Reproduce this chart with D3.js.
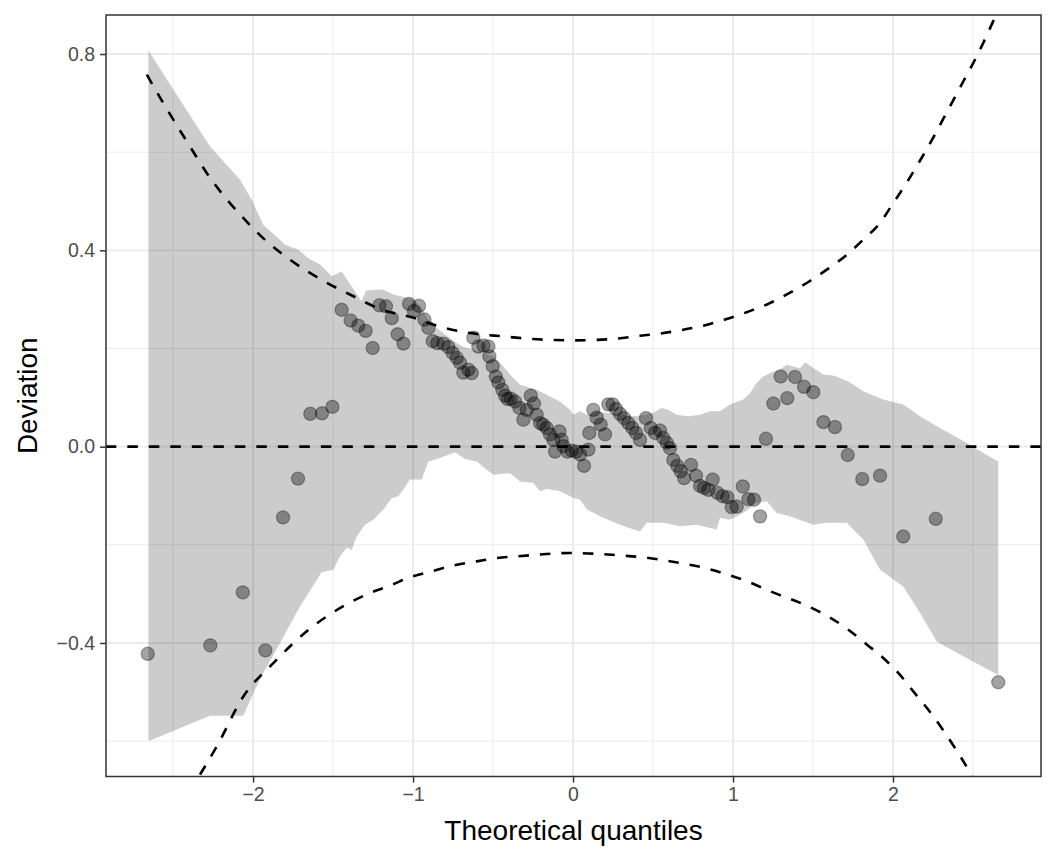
<!DOCTYPE html>
<html><head><meta charset="utf-8">
<script src="https://cdn.jsdelivr.net/npm/d3@7"></script>
<style>body{margin:0;background:#fff}svg{display:block}text{font-family:"Liberation Sans",Arial,Helvetica,sans-serif}</style>
</head><body>
<svg id="chart" width="1056" height="864"></svg>
<script>
// ---- data ----
const xTickValues = [-2, -1, 0, 1, 2];
const xTickLabels = ["\u22122", "\u22121", "0", "1", "2"];
const yTickValues = [-0.4, 0.0, 0.4, 0.8];
const yTickLabels = ["\u22120.4", "0.0", "0.4", "0.8"];
const xMinor = [-2.5, -1.5, -0.5, 0.5, 1.5, 2.5];
const yMinor = [-0.6, -0.2, 0.2, 0.6];
const xTitle = "Theoretical quantiles";
const yTitle = "Deviation";

const pointX = [-2.658,-2.267,-2.064,-1.923,-1.8125,-1.719,-1.642,-1.569,-1.504,
 -1.446,-1.39,-1.342,-1.296,-1.252,-1.21,-1.169,-1.133,-1.096,-1.06,-1.025,-0.994,-0.9625,-0.929,-0.904,-0.877,-0.848,-0.81,-0.779,-0.752,-0.727,-0.706,-0.686,-0.654,-0.633,-0.623,-0.592,-0.56,-0.529,-0.523,-0.502,-0.483,-0.467,
 -0.442,-0.425,-0.408,-0.389,-0.3625,-0.335,-0.31,-0.289,-0.264,-0.244,-0.227,-0.206,-0.186,-0.164,-0.144,-0.123,-0.1125,-0.085,-0.071,-0.06,-0.035,-0.008,0.019,0.044,0.069,0.096,0.102,0.127,0.148,0.173,0.2,0.221,0.248,0.269,0.294,0.319,0.346,0.371,0.394,
 0.419,0.456,0.486,0.5125,0.544,0.564,0.586,0.606,0.627,0.652,0.673,0.694,0.7375,0.769,0.794,0.819,0.846,0.873,0.902,0.935,0.965,0.992,1.023,1.061,1.096,1.131,1.169,1.206,1.252,1.298,1.339,1.3875,
 1.444,1.502,1.565,1.6375,1.717,1.808,1.919,2.064,2.267,2.658];
const pointY = [-0.422,-0.405,-0.297,-0.415,-0.144,-0.065,0.067,0.068,0.081,
 0.279,0.257,0.2465,0.236,0.201,0.288,0.286,0.262,0.229,0.21,0.291,0.276,0.287,0.259,0.242,0.215,0.211,0.21,0.203,0.191,0.181,0.171,0.151,0.157,0.150,0.222,0.204,0.206,0.204,0.184,0.164,0.143,0.131,
 0.116,0.104,0.097,0.098,0.092,0.079,0.055,0.075,0.104,0.088,0.065,0.048,0.045,0.038,0.025,0.014,-0.010,0.031,0.014,0.001,-0.010,-0.008,-0.010,-0.016,-0.039,-0.006,0.028,0.075,0.059,0.045,0.025,0.086,0.086,0.077,0.067,0.058,0.048,0.038,0.028,
 0.014,0.058,0.038,0.028,0.033,0.018,0.008,-0.003,-0.027,-0.039,-0.050,-0.064,-0.037,-0.059,-0.080,-0.084,-0.088,-0.067,-0.094,-0.101,-0.103,-0.123,-0.122,-0.081,-0.107,-0.108,-0.142,0.016,0.088,0.143,0.099,0.142,
 0.122,0.111,0.050,0.040,-0.017,-0.066,-0.059,-0.183,-0.147,-0.480];

const bandUpperX = [-2.654,-2.477,-2.269,-2.081,-2.008,-1.936,-1.8,-1.717,-1.654,-1.581,-1.508,-1.446,-1.321,-1.294,-1.186,-1.123,-1.071,-1.0,-0.95,-0.894,-0.727,-0.686,-0.623,-0.498,-0.436,-0.394,-0.331,-0.227,-0.144,-0.081,-0.019,0.002,0.044,0.086,0.169,0.294,0.40,0.502,0.554,0.596,0.648,0.721,0.794,0.856,0.919,0.981,1.064,1.106,1.148,1.189,1.231,1.294,1.336,1.419,1.45,1.564,1.627,1.721,1.814,1.939,2.064,2.169,2.294,2.481,2.564,2.658];
const bandUpperY = [0.807,0.717,0.612,0.544,0.503,0.452,0.412,0.401,0.384,0.371,0.347,0.357,0.296,0.318,0.320,0.310,0.306,0.300,0.285,0.252,0.211,0.203,0.198,0.184,0.164,0.147,0.126,0.116,0.102,0.092,0.075,0.065,0.072,0.065,0.071,0.065,0.062,0.069,0.079,0.075,0.065,0.062,0.065,0.072,0.072,0.086,0.096,0.109,0.130,0.143,0.150,0.157,0.167,0.160,0.172,0.147,0.145,0.133,0.113,0.096,0.086,0.062,0.038,0.004,-0.013,-0.030];
const bandLowerX = [-2.654,-2.269,-2.061,-1.998,-1.936,-1.831,-1.706,-1.571,-1.498,-1.456,-1.414,-1.383,-1.352,-1.3,-1.248,-1.186,-1.133,-1.092,-1.061,-1.019,-0.946,-0.904,-0.831,-0.7375,-0.675,-0.602,-0.539,-0.498,-0.394,-0.331,-0.248,-0.206,-0.164,-0.081,0.002,0.044,0.086,0.189,0.294,0.356,0.419,0.461,0.564,0.669,0.773,0.898,0.919,0.981,1.064,1.148,1.211,1.273,1.356,1.439,1.502,1.586,1.711,1.814,1.919,2.064,2.169,2.273,2.398,2.658];
const bandLowerY = [-0.600,-0.548,-0.548,-0.502,-0.461,-0.400,-0.325,-0.256,-0.251,-0.2235,-0.206,-0.210,-0.183,-0.159,-0.149,-0.128,-0.105,-0.101,-0.088,-0.067,-0.067,-0.030,-0.023,-0.0116,-0.025,-0.030,-0.047,-0.057,-0.054,-0.071,-0.074,-0.091,-0.086,-0.091,-0.1045,-0.108,-0.128,-0.145,-0.159,-0.166,-0.1726,-0.155,-0.155,-0.162,-0.159,-0.169,-0.145,-0.149,-0.135,-0.115,-0.111,-0.135,-0.142,-0.152,-0.159,-0.155,-0.155,-0.189,-0.251,-0.285,-0.339,-0.397,-0.420,-0.465];

const upperCurveX = [-2.664,-2.5625,-2.414,-2.269,-2.0625,-1.914,-1.769,-1.539,-1.394,-1.186,-1.0,-0.852,-0.644,-0.436,-0.186,0,0.231,0.419,0.533,0.669,0.8145,0.95,1.0856,1.2206,1.3456,1.4606,1.586,1.711,1.814,1.919,2.002,2.0856,2.169,2.252,2.314,2.377,2.439,2.502,2.564,2.623,2.66];
const upperCurveY = [0.758,0.701,0.622,0.548,0.4666,0.418,0.381,0.334,0.310,0.278,0.263,0.2465,0.2316,0.2247,0.218,0.2166,0.219,0.226,0.230,0.237,0.2465,0.259,0.274,0.291,0.3117,0.3335,0.3606,0.391,0.4218,0.456,0.4965,0.538,0.583,0.630,0.668,0.706,0.744,0.782,0.8225,0.8645,0.89];
const lowerCurveX = [-2.40,-2.331,-2.227,-2.0606,-1.873,-1.664,-1.4356,-1.279,-1.144,-1.019,-0.883,-0.748,-0.602,-0.477,-0.352,-0.019,0.314,0.419,0.669,0.8145,0.95,1.0856,1.2206,1.481,1.606,1.721,1.836,1.939,2.033,2.127,2.2206,2.304,2.3875,2.456,2.55];
const lowerCurveY = [-0.706,-0.668,-0.611,-0.509,-0.441,-0.376,-0.325,-0.2995,-0.283,-0.266,-0.254,-0.242,-0.2337,-0.2268,-0.2235,-0.2166,-0.222,-0.2247,-0.237,-0.2465,-0.259,-0.274,-0.293,-0.327,-0.348,-0.373,-0.403,-0.4305,-0.461,-0.4986,-0.536,-0.573,-0.614,-0.650,-0.71];
const zeroLine = [-2.92, 2.925];

// ---- drawing ----
const svg = d3.select("#chart");
const panel = {left: 106, right: 1041, top: 15, bottom: 776.5};
const x = d3.scaleLinear().domain([-2.919, 2.925]).range([panel.left, panel.right]);
const y = d3.scaleLinear().domain([-0.672, 0.8795]).range([panel.bottom, panel.top]);

svg.append("defs").append("clipPath").attr("id", "clip")
  .append("rect").attr("x", panel.left).attr("y", panel.top)
  .attr("width", panel.right - panel.left).attr("height", panel.bottom - panel.top);

const grid = svg.append("g");
grid.selectAll(".xm").data(xMinor).join("line").attr("class","xm")
  .attr("x1", d => x(d)).attr("x2", d => x(d)).attr("y1", panel.top).attr("y2", panel.bottom)
  .attr("stroke", "#ebebeb").attr("stroke-width", 1.0);
grid.selectAll(".ym").data(yMinor).join("line").attr("class","ym")
  .attr("y1", d => y(d)).attr("y2", d => y(d)).attr("x1", panel.left).attr("x2", panel.right)
  .attr("stroke", "#ebebeb").attr("stroke-width", 1.0);
grid.selectAll(".xM").data(xTickValues).join("line").attr("class","xM")
  .attr("x1", d => x(d)).attr("x2", d => x(d)).attr("y1", panel.top).attr("y2", panel.bottom)
  .attr("stroke", "#ebebeb").attr("stroke-width", 1.9);
grid.selectAll(".yM").data(yTickValues).join("line").attr("class","yM")
  .attr("y1", d => y(d)).attr("y2", d => y(d)).attr("x1", panel.left).attr("x2", panel.right)
  .attr("stroke", "#ebebeb").attr("stroke-width", 1.9);

const plot = svg.append("g").attr("clip-path", "url(#clip)");

// ribbon
const upperPts = bandUpperX.map((d, i) => [d, bandUpperY[i]]);
const lowerPts = bandLowerX.map((d, i) => [d, bandLowerY[i]]).reverse();
const poly = d3.line().x(d => x(d[0])).y(d => y(d[1]));
plot.append("path").attr("d", poly(upperPts.concat(lowerPts)) + "Z")
  .attr("fill", "#000").attr("fill-opacity", 0.2).attr("stroke", "none");

// points
const pts = pointX.map((d, i) => [d, pointY[i]]);
plot.selectAll("circle").data(pts).join("circle")
  .attr("cx", d => x(d[0])).attr("cy", d => y(d[1])).attr("r", 6.6)
  .attr("fill", "#000").attr("fill-opacity", 0.36)
  .attr("stroke", "#000").attr("stroke-opacity", 0.33).attr("stroke-width", 1.2);

// dashed reference lines
const curve = d3.line().x(d => x(d[0])).y(d => y(d[1])).curve(d3.curveMonotoneX);
const dash = "10.5,11";
plot.append("path").attr("d", curve(upperCurveX.map((d, i) => [d, upperCurveY[i]])))
  .attr("fill", "none").attr("stroke", "#000").attr("stroke-width", 2.6).attr("stroke-dasharray", dash);
plot.append("path").attr("d", curve(lowerCurveX.map((d, i) => [d, lowerCurveY[i]])))
  .attr("fill", "none").attr("stroke", "#000").attr("stroke-width", 2.6).attr("stroke-dasharray", dash);
plot.append("path").attr("d", curve(zeroLine.map(d => [d, 0])))
  .attr("fill", "none").attr("stroke", "#000").attr("stroke-width", 2.6).attr("stroke-dasharray", dash);

// panel border
svg.append("rect").attr("x", panel.left).attr("y", panel.top)
  .attr("width", panel.right - panel.left).attr("height", panel.bottom - panel.top)
  .attr("fill", "none").attr("stroke", "#333333").attr("stroke-width", 1.5);

// axes
const xAxis = d3.axisBottom(x).tickValues(xTickValues).tickSize(6).tickPadding(5)
  .tickFormat((d, i) => xTickLabels[i]);
const gx = svg.append("g").attr("transform", `translate(0,${panel.bottom})`).call(xAxis);
const yAxis = d3.axisLeft(y).tickValues(yTickValues).tickSize(6).tickPadding(5)
  .tickFormat((d, i) => yTickLabels[i]);
const gy = svg.append("g").attr("transform", `translate(${panel.left},0)`).call(yAxis);
[gx, gy].forEach(g => {
  g.select(".domain").remove();
  g.selectAll(".tick line").attr("stroke", "#333333").attr("stroke-width", 1.5);
  g.selectAll(".tick text").attr("fill", "#4d4d4d").style("font-size", "19.5px")
    .style("font-family", '"Liberation Sans", Arial, sans-serif');
});

svg.append("text").attr("x", (panel.left + panel.right) / 2).attr("y", 840)
  .attr("text-anchor", "middle").attr("fill", "#000").style("font-size", "28px").text(xTitle);
svg.append("text").attr("transform", `translate(37,${(panel.top + panel.bottom) / 2}) rotate(-90)`)
  .attr("text-anchor", "middle").attr("fill", "#000").style("font-size", "28px").text(yTitle);
</script>
</body></html>
